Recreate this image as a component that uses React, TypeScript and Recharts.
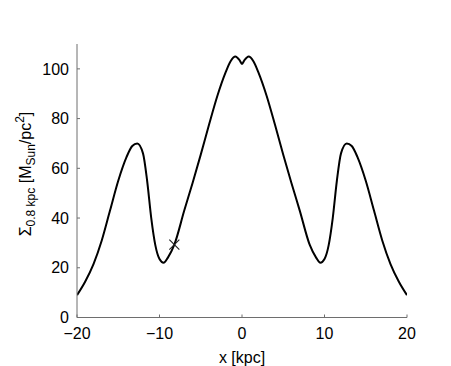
import React from "react"
import {
  ComposedChart,
  Line,
  Scatter,
  XAxis,
  YAxis,
} from "recharts"

// surface density profile (symmetric about x = 0)
const xLeft = [-20, -19, -18, -17, -16, -15, -14, -13.3, -12.7, -12, -11.5, -11, -10.5, -10, -9.5, -9, -8.2, -7, -6, -5, -4, -3, -2, -1.4, -0.8, -0.3]
const sigmaLeft = [9, 14.5, 21.5, 31, 43, 55, 64.5, 69, 70, 66, 55, 40, 29, 23.5, 22, 24, 29.3, 43, 54, 65.5, 77.5, 89, 98.5, 103, 105, 103.5]
const xCenter = [0]
const sigmaCenter = [102]

// sun position marker
const sunX = [-8.2]
const sunSigma = [29.3]

const xTicks = [-20, -10, 0, 10, 20]
const yTicks = [0, 20, 40, 60, 80, 100]

const profile = [
  ...xLeft.map((x, i) => ({ x, y: sigmaLeft[i] })),
  ...xCenter.map((x, i) => ({ x, y: sigmaCenter[i] })),
  ...xLeft
    .map((x, i) => ({ x: -x, y: sigmaLeft[i] }))
    .reverse(),
]
const sun = sunX.map((x, i) => ({ x, y: sunSigma[i] }))

const FONT = "'Liberation Sans', Arial, Helvetica, sans-serif"
const AXIS = "#6e6e6e"
const tickStyle = { fontSize: 16, fill: "#000", fontFamily: FONT }
const fmt = (v: number) => String(v).replace("-", "\u2212")
const blank = () => ""

const Cross = (props: any) => {
  const { cx, cy } = props
  const s = 5
  return (
    <g stroke="#222" strokeWidth={1.2}>
      <line x1={cx - s} y1={cy - s} x2={cx + s} y2={cy + s} />
      <line x1={cx - s} y1={cy + s} x2={cx + s} y2={cy - s} />
    </g>
  )
}

const YLabel = () => (
  <text
    transform="translate(31,174) rotate(-90)"
    textAnchor="middle"
    fontFamily={FONT}
    fontSize={16}
    fill="#000"
  >
    <tspan>Σ</tspan>
    <tspan fontSize={12} dy={4}>0.8 kpc</tspan>
    <tspan dy={-4}> [M</tspan>
    <tspan fontSize={12} dy={4}>Sun</tspan>
    <tspan dy={-4}>/pc</tspan>
    <tspan fontSize={12} dy={-7}>2</tspan>
    <tspan dy={7}>]</tspan>
  </text>
)

export default function App() {
  return (
    <div style={{ position: "absolute", left: 0, top: 0, background: "#fff" }}>
      <ComposedChart
        width={451}
        height={366}
        data={profile}
        margin={{ top: 44, right: 44, bottom: 0, left: 0 }}
      >
        <XAxis
          xAxisId="b"
          dataKey="x"
          type="number"
          domain={[-20, 20]}
          ticks={xTicks}
          allowDataOverflow
          height={48.5}
          stroke={AXIS}
          tickSize={-3}
          tickMargin={13}
          tick={tickStyle}
          tickFormatter={fmt}
          label={{
            value: "x [kpc]",
            position: "insideBottom",
            offset: 3,
            style: { fontSize: 16, fill: "#000", fontFamily: FONT },
          }}
        />
        <XAxis
          xAxisId="t"
          orientation="top"
          dataKey="x"
          type="number"
          domain={[-20, 20]}
          ticks={xTicks}
          height={0}
          stroke={AXIS}
          tickSize={-3}
          tickFormatter={blank}
        />
        <YAxis
          yAxisId="l"
          type="number"
          domain={[0, 110]}
          ticks={yTicks}
          allowDataOverflow
          width={77}
          stroke={AXIS}
          tickSize={-3}
          tickMargin={11}
          tick={tickStyle}
          tickFormatter={fmt}
        />
        <YAxis
          yAxisId="r"
          orientation="right"
          type="number"
          domain={[0, 110]}
          ticks={yTicks}
          width={0}
          stroke={AXIS}
          tickSize={-3}
          tickFormatter={blank}
        />
        <Line
          xAxisId="b"
          yAxisId="l"
          dataKey="y"
          type="monotone"
          stroke="#000"
          strokeWidth={2}
          dot={false}
          activeDot={false}
          isAnimationActive={false}
        />
        <Scatter
          xAxisId="b"
          yAxisId="l"
          data={sun}
          dataKey="y"
          shape={<Cross />}
          isAnimationActive={false}
        />
        <YLabel />
      </ComposedChart>
    </div>
  )
}
